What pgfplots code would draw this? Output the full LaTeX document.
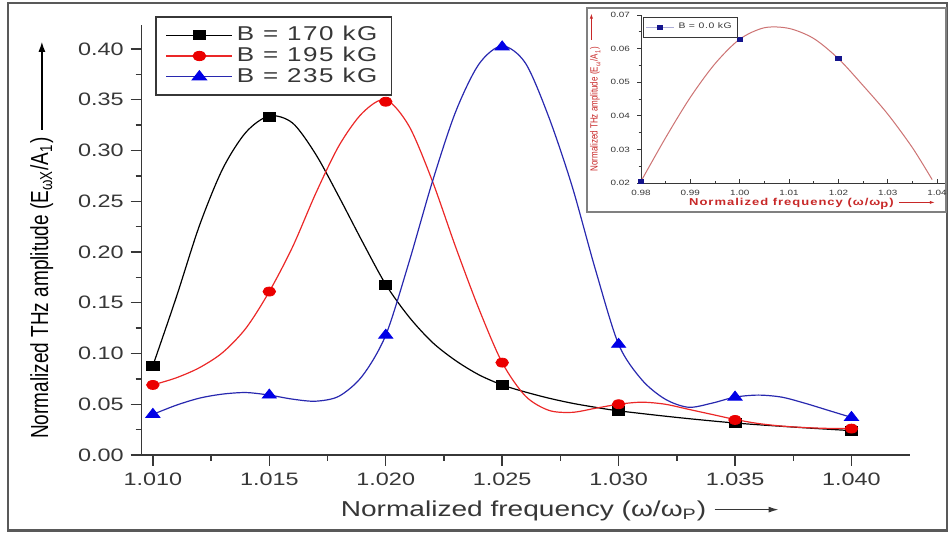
\documentclass[border=0pt]{standalone}
\usepackage{fontspec}
\setmainfont[FakeStretch=1.3]{Liberation Sans}
\newfontfamily\plainfont{Liberation Sans}
\newfontfamily\legfont[FakeStretch=1.3,LetterSpace=8]{Liberation Sans}
\newfontfamily\boldspaced[FakeStretch=1.3,LetterSpace=10]{Liberation Sans}
\usepackage{graphicx}
\usepackage{pgfplots}
\pgfplotsset{compat=1.18}
\usetikzlibrary{arrows.meta}
\definecolor{tickgray}{RGB}{55,55,55}
\definecolor{bluel}{RGB}{40,40,175}
\definecolor{bluem}{RGB}{0,0,230}
\definecolor{redl}{RGB}{235,40,40}
\definecolor{redm}{RGB}{235,0,0}
\definecolor{insetred}{RGB}{200,40,40}
\definecolor{insetcurve}{RGB}{205,115,115}
\definecolor{navy}{RGB}{20,20,140}
\begin{document}
\begin{tikzpicture}
\useasboundingbox (0,0) rectangle (475pt,266.5pt);
\draw[gray!70!black, line width=1.2pt] (4pt,1.2pt) rectangle (473.5pt,265pt);
\begin{axis}[
  at={(70.85pt,39pt)}, anchor=south west,
  scale only axis, width=384pt, height=215pt,
  axis x line*=bottom, axis y line*=left,
  xmin=1.00952, xmax=1.0425, ymin=0, ymax=0.4236,
  xtick={1.010,1.015,1.020,1.025,1.030,1.035,1.040},
  ytick={0,0.05,0.10,0.15,0.20,0.25,0.30,0.35,0.40},
  minor x tick num=1, minor y tick num=1,
  tick align=outside, major tick length=5.5pt, minor tick length=3pt,
  axis line style={tickgray, line width=0.7pt},
  tick style={tickgray, line width=0.7pt},
  scaled ticks=false,
  /pgf/number format/assume math mode=true,
  xticklabel style={/pgf/number format/.cd, fixed, fixed zerofill, precision=3},
  yticklabel style={/pgf/number format/.cd, fixed, fixed zerofill, precision=2},
  ticklabel style={font=\fontsize{9}{10}\selectfont, text=tickgray},
  xlabel={\fontsize{10.8}{12}\selectfont Normalized frequency (ω/ω\textsubscript{P})\ \tikz[baseline=-0.6ex]\draw[line width=0.6pt,-{Latex[length=5pt,width=3pt]}] (0,0)--(32pt,0);},
  xlabel style={at={(axis description cs:0.5447,-0.130)}, anchor=center, text=tickgray},
  ylabel={\scalebox{1}[1.3]{\fontsize{9.5}{10}\plainfont Normalized THz amplitude (E\textsubscript{ωX}/A\textsubscript{1})}\ \tikz[baseline=-0.6ex]\draw[line width=0.6pt,-{Latex[length=5pt,width=3.5pt]}] (0,0)--(44pt,0);},
  ylabel style={at={(axis description cs:-0.130,0.50)}, anchor=center, text=black},
  legend style={at={(0.0173,1.021)}, anchor=north west, draw=tickgray, line width=0.8pt,
     font=\fontsize{10}{12}\legfont, text=tickgray, inner xsep=5pt, inner ysep=2.8pt, row sep=-2.3pt},
  legend cell align=left,
  legend image code/.code={\draw[mark repeat=2,mark phase=2,#1] plot coordinates {(0pt,0pt) (16.5pt,0pt) (33pt,0pt)};},
]
\addlegendimage{black, line width=0.6pt, mark=square*, mark size=2.25pt, mark options={xscale=1.35, solid, fill=black}}
\addlegendentry{B = 170 kG}
\addlegendimage{redl, line width=0.6pt, mark=*, mark size=2.25pt, mark options={xscale=1.4, solid, fill=redm, draw=redm}}
\addlegendentry{B = 195 kG}
\addlegendimage{bluel, line width=0.6pt, mark=triangle*, mark size=3pt, mark options={xscale=1.35, solid, fill=bluem, draw=bluem}}
\addlegendentry{B = 235 kG}
% curves
\addplot[black, line width=0.6pt, smooth, forget plot] coordinates {
(1.010,0.088) (1.011,0.155) (1.012,0.226) (1.013,0.282) (1.014,0.318) (1.015,0.334) (1.016,0.327) (1.017,0.296) (1.018,0.254) (1.019,0.210) (1.020,0.168) (1.021,0.136) (1.022,0.111) (1.023,0.093) (1.024,0.079) (1.025,0.069) (1.026,0.062) (1.027,0.056) (1.028,0.051) (1.029,0.047) (1.030,0.0435) (1.0325,0.037) (1.035,0.0315) (1.0375,0.0275) (1.040,0.024)};
\addplot[redl, line width=0.6pt, smooth, forget plot] coordinates {
(1.010,0.069) (1.011,0.076) (1.012,0.086) (1.013,0.101) (1.014,0.125) (1.015,0.161) (1.016,0.205) (1.017,0.258) (1.018,0.305) (1.019,0.337) (1.020,0.350) (1.021,0.324) (1.022,0.270) (1.023,0.205) (1.024,0.144) (1.025,0.091) (1.026,0.058) (1.027,0.044) (1.028,0.042) (1.029,0.046) (1.030,0.050) (1.031,0.052) (1.032,0.050) (1.033,0.045) (1.034,0.040) (1.035,0.035) (1.036,0.031) (1.037,0.0285) (1.038,0.027) (1.039,0.0262) (1.040,0.026)};
\addplot[bluel, line width=0.6pt, smooth, forget plot] coordinates {
(1.010,0.040) (1.011,0.049) (1.012,0.056) (1.013,0.060) (1.014,0.0615) (1.015,0.059) (1.016,0.055) (1.017,0.053) (1.018,0.058) (1.019,0.078) (1.020,0.118) (1.021,0.190) (1.022,0.269) (1.023,0.338) (1.024,0.385) (1.025,0.403) (1.026,0.386) (1.027,0.333) (1.028,0.265) (1.029,0.183) (1.030,0.109) (1.031,0.074) (1.032,0.055) (1.033,0.047) (1.034,0.051) (1.035,0.057) (1.036,0.059) (1.037,0.057) (1.038,0.051) (1.039,0.044) (1.040,0.037)};
% data markers
\addplot[only marks, mark=square*, mark size=2.25pt, mark options={xscale=1.35, fill=black}, black, forget plot] coordinates {
(1.010,0.088) (1.015,0.333) (1.020,0.168) (1.025,0.069) (1.030,0.043) (1.035,0.0315) (1.040,0.024)};
\addplot[only marks, mark=*, mark size=2.25pt, mark options={xscale=1.4, fill=redm, draw=redm}, forget plot] coordinates {
(1.010,0.069) (1.015,0.161) (1.020,0.348) (1.025,0.091) (1.030,0.050) (1.035,0.0345) (1.040,0.026)};
\addplot[only marks, mark=triangle*, mark size=3pt, mark options={xscale=1.35, fill=bluem, draw=bluem}, forget plot] coordinates {
(1.010,0.040) (1.015,0.059) (1.020,0.118) (1.025,0.402) (1.030,0.109) (1.035,0.057) (1.040,0.037)};
\end{axis}
% inset
\draw[gray, line width=0.6pt, fill=white] (293.5pt,160.5pt) rectangle (473pt,262.5pt);
\begin{axis}[
  at={(320.5pt,175pt)}, anchor=south west,
  scale only axis, width=152pt, height=84pt,
  axis x line*=bottom, axis y line*=left,
  xmin=0.98, xmax=1.0416, ymin=0.02, ymax=0.07,
  xtick={0.98,0.99,1.00,1.01,1.02,1.03,1.04},
  ytick={0.02,0.03,0.04,0.05,0.06,0.07},
  minor x tick num=1, minor y tick num=1,
  xtick align=inside, ytick align=outside,
  major tick length=2pt, minor tick length=1.2pt,
  axis line style={tickgray, line width=0.4pt},
  tick style={tickgray, line width=0.4pt},
  scaled ticks=false,
  /pgf/number format/assume math mode=true,
  xticklabel style={/pgf/number format/.cd, fixed, fixed zerofill, precision=2},
  yticklabel style={/pgf/number format/.cd, fixed, fixed zerofill, precision=2},
  ticklabel style={font=\fontsize{3.8}{4}\selectfont, text=tickgray},
  xlabel={\fontsize{5}{6}\boldspaced\bfseries Normalized frequency (ω/ω\textsubscript{p})\ \tikz[baseline=-0.6ex]\draw[line width=0.4pt,-{Latex[length=2.5pt,width=1.6pt]}] (0,0)--(18pt,0);},
  xlabel style={at={(axis description cs:0.563,-0.125)}, anchor=center, text=insetred},
  ylabel={\scalebox{1}[1.3]{\fontsize{4}{5}\plainfont Normalized THz amplitude (E\textsubscript{ω}/A\textsubscript{1})}\ \tikz[baseline=-0.6ex]\draw[line width=0.4pt,-{Latex[length=2.5pt,width=1.6pt]}] (0,0)--(13pt,0);},
  ylabel style={at={(axis description cs:-0.151,0.54)}, anchor=center, text=insetred},
  legend style={at={(0.007,0.99)}, anchor=north west, draw=tickgray, line width=0.4pt,
     font=\fontsize{4}{5}\legfont, text=tickgray, inner sep=1pt},
  legend image code/.code={\draw[mark repeat=2,mark phase=2,#1] plot coordinates {(0pt,0pt) (7pt,0pt) (14pt,0pt)};},
]
\addlegendimage{navy!35, line width=0.5pt, mark=square*, mark size=1pt, mark options={xscale=1.4, solid, fill=navy, draw=navy}}
\addlegendentry{B = 0.0 kG}
\addplot[insetcurve, line width=0.5pt, smooth, forget plot] coordinates {
(0.980,0.0205) (0.985,0.0335) (0.990,0.0455) (0.995,0.0555) (1.000,0.0628) (1.005,0.0662) (1.010,0.0660) (1.015,0.0630) (1.020,0.0570) (1.025,0.0490) (1.030,0.0405) (1.035,0.0305) (1.039,0.0210)};
\addplot[only marks, mark=square*, mark size=1pt, mark options={xscale=1.4, fill=navy, draw=navy}, forget plot] coordinates {
(0.980,0.0205) (1.000,0.0628) (1.020,0.0570)};
\end{axis}
\end{tikzpicture}
\end{document}
